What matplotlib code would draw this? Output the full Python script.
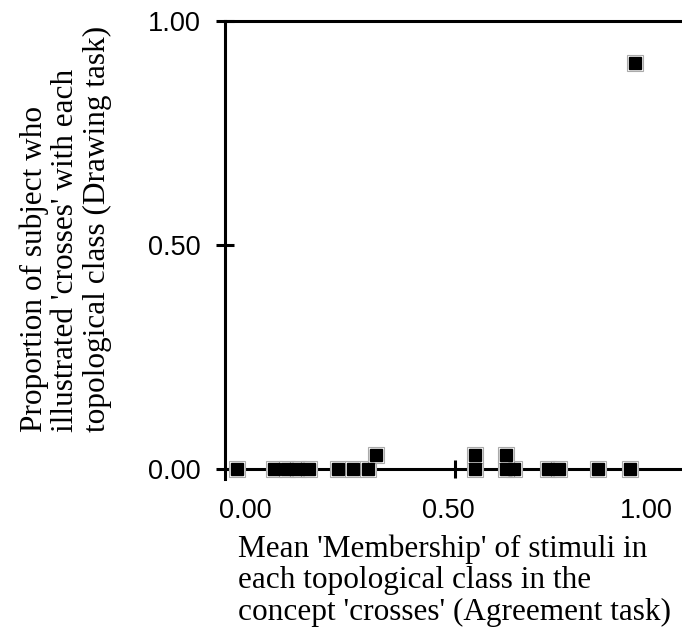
import matplotlib.pyplot as plt

# mean membership (agreement task) vs proportion who drew "crosses"
membership = [0.000, 0.085, 0.115, 0.140, 0.165, 0.232, 0.266, 0.300, 0.319,
              0.546, 0.546, 0.636, 0.618, 0.618, 0.713, 0.739, 0.828, 0.901, 0.913]
proportion = [0.0, 0.0, 0.0, 0.0, 0.0, 0.0, 0.0, 0.0, 0.031,
              0.0, 0.031, 0.0, 0.0, 0.031, 0.0, 0.0, 0.0, 0.0, 0.906]

tick_values = [0.0, 0.5, 1.0]
tick_labels = ["0.00", "0.50", "1.00"]
# the x labels sit a little off their ticks in the original
xlabel_pos = [0.018, 0.484, 0.938]

W, H = 682, 629
fig = plt.figure(figsize=(W / 100, H / 100), dpi=100)
ax = fig.add_axes([225 / W, 1 - 479 / H, 457 / W, 458 / H])

lw = 2.2
for x, y in zip(membership, proportion):
    ax.plot(x, y, "s", ms=11, mfc="white", mec="#aaaaaa", mew=0.8, zorder=5, clip_on=False)
    ax.plot(x, y, "s", ms=8, color="black", zorder=6, clip_on=False)

ax.set_xlim(-0.0275, 1.021)
ax.set_ylim(-0.022, 1.0)

ax.spines["right"].set_visible(False)
ax.spines["bottom"].set_position(("data", 0))
for s in ["left", "top", "bottom"]:
    ax.spines[s].set_linewidth(lw)

ax.set_yticks(tick_values, tick_labels)
ax.tick_params(axis="y", direction="inout", length=13, width=lw, pad=11,
               labelsize=19.5, labelfontfamily="Liberation Sans")

ax.set_xticks(xlabel_pos, tick_labels)
ax.tick_params(axis="x", which="major", length=0, pad=21,
               labelsize=19.5, labelfontfamily="Liberation Sans")
ax.set_xticks([0.5], minor=True)
ax.tick_params(axis="x", which="minor", direction="inout", length=13, width=lw)

fig.text(238 / W, 1 - 535 / H,
         "Mean 'Membership' of stimuli in\neach topological class in the\nconcept 'crosses' (Agreement task)",
         ha="left", va="top", fontsize=22.5, family="Liberation Serif", linespacing=1.09)
fig.text(112 / W, 1 - 432 / H,
         "Proportion of subject who\nillustrated 'crosses' with each\ntopological class (Drawing task)",
         ha="right", va="bottom", rotation=90, multialignment="left",
         fontsize=22.5, family="Liberation Serif", linespacing=1.12)

fig.savefig("out.png", dpi=100)
